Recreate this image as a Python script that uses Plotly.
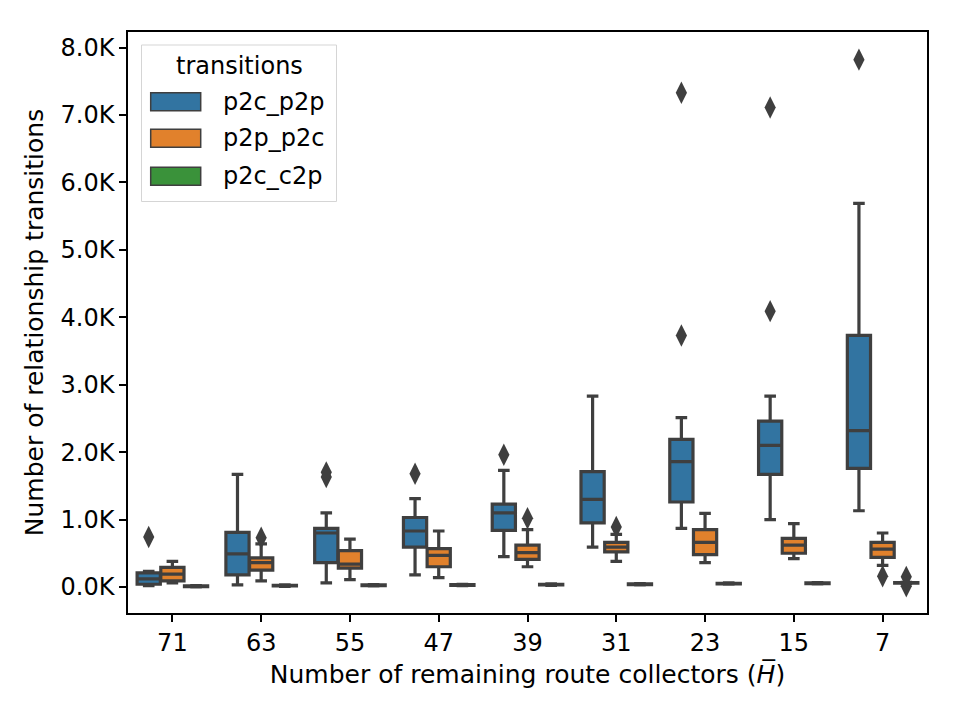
import plotly.graph_objects as go

collectors = ["71", "63", "55", "47", "39", "31", "23", "15", "7"]
hues = ["p2c_p2p", "p2p_p2c", "p2c_c2p"]
colors = ["#3274a1", "#e1812c", "#3a923a"]

# p2c_p2p
a_low = [20, 30, 60, 180, 450, 590, 870, 1000, 1130]
a_q1 = [40, 180, 360, 590, 840, 950, 1260, 1670, 1760]
a_med = [120, 490, 800, 830, 1100, 1300, 1860, 2100, 2320]
a_q3 = [210, 810, 870, 1030, 1230, 1710, 2190, 2460, 3730]
a_up = [230, 1670, 1100, 1310, 1730, 2830, 2510, 2830, 5690]
a_out = [[740], [], [1630, 1700], [1680], [1960], [], [3730, 7330], [4090, 7110], [7820]]

# p2p_p2c
b_low = [60, 90, 110, 140, 300, 380, 360, 420, 320]
b_q1 = [90, 250, 280, 300, 410, 520, 480, 500, 440]
b_med = [190, 360, 340, 470, 510, 590, 660, 620, 560]
b_q3 = [290, 430, 540, 570, 620, 660, 850, 720, 660]
b_up = [380, 640, 710, 830, 850, 780, 1090, 940, 800]
b_out = [[], [730], [], [], [1020], [890], [], [], [160]]

# p2c_c2p
c_low = [0, 10, 15, 20, 25, 30, 40, 45, 50]
c_q1 = [5, 15, 20, 25, 30, 35, 45, 50, 55]
c_med = [10, 20, 25, 30, 35, 40, 50, 55, 60]
c_q3 = [15, 25, 30, 35, 40, 45, 55, 60, 65]
c_up = [20, 30, 35, 40, 45, 50, 60, 65, 70]
c_out = [[], [], [], [], [], [], [], [], [10, 150]]

ytick_vals = [0, 1000, 2000, 3000, 4000, 5000, 6000, 7000, 8000]
ytick_text = ["0.0K", "1.0K", "2.0K", "3.0K", "4.0K", "5.0K", "6.0K", "7.0K", "8.0K"]

series = [
    (a_low, a_q1, a_med, a_q3, a_up, a_out),
    (b_low, b_q1, b_med, b_q3, b_up, b_out),
    (c_low, c_q1, c_med, c_q3, c_up, c_out),
]

LINE = "#3f3f3f"
FONT = "DejaVu Sans"
FS = 24
FS_TITLE = 25
n = len(collectors)
hw = 0.8 / len(hues)

W, H = 960, 720
ML, MR, MT, MB = 128, 33, 32, 107
PW, PH = W - ML - MR, H - MT - MB


def px(xp):
    return (xp - ML) / PW


def py(yp):
    return (H - MB - yp) / PH


fig = go.Figure()
for k, (name, col, (lo, q1, md, q3, up, out)) in enumerate(zip(hues, colors, series)):
    off = (k - 1) * hw
    xs = [i + off for i in range(n)]
    fig.add_trace(go.Box(
        name=name, x=xs, q1=q1, median=md, q3=q3,
        lowerfence=lo, upperfence=up,
        width=hw * 0.98, whiskerwidth=0.5,
        fillcolor=col, line=dict(color=LINE, width=3.2),
        boxpoints=False, hoverinfo="skip", showlegend=False,
    ))
    ox, oy = [], []
    for i in range(n):
        for v in out[i]:
            ox.append(i + off)
            oy.append(v)
    fig.add_trace(go.Scatter(
        x=ox, y=oy, mode="markers", showlegend=False,
        marker=dict(symbol="diamond-tall", size=16, color=LINE,
                    line=dict(width=0)),
        hoverinfo="skip",
    ))

# manual legend (seaborn style)
shapes = [dict(type="rect", xref="paper", yref="paper",
               x0=px(141.5), x1=px(336.5), y0=py(201.5), y1=py(45),
               line=dict(color="#d5d5d5", width=1), fillcolor="rgba(255,255,255,0.8)",
               layer="above")]
annotations = [dict(text="transitions", xref="paper", yref="paper",
                    x=px(239), y=py(66), xanchor="center", yanchor="middle",
                    showarrow=False, font=dict(family=FONT, size=FS, color="black"))]
row_y = [101.7, 138.3, 176.3]
for name, col, ry in zip(hues, colors, row_y):
    shapes.append(dict(type="rect", xref="paper", yref="paper",
                       x0=px(150.7), x1=px(200.7), y0=py(ry + 9), y1=py(ry - 9),
                       line=dict(color=LINE, width=1.5), fillcolor=col, layer="above"))
    annotations.append(dict(text=name, xref="paper", yref="paper",
                            x=px(221), y=py(ry), xanchor="left", yanchor="middle",
                            showarrow=False, font=dict(family=FONT, size=FS, color="black")))

fig.update_layout(
    width=W, height=H,
    margin=dict(l=ML, r=MR, t=MT, b=MB),
    plot_bgcolor="white", paper_bgcolor="white",
    font=dict(family=FONT, size=FS, color="black"),
    showlegend=False,
    shapes=shapes, annotations=annotations,
    xaxis=dict(
        range=[-0.5, n - 0.5], tickmode="array",
        tickvals=list(range(n)), ticktext=collectors,
        showgrid=False, zeroline=False,
        showline=True, mirror=True, linecolor="black", linewidth=1.5,
        ticks="outside", ticklen=7, tickwidth=1.5, tickcolor="black",
        tickfont=dict(size=FS),
        title=dict(text="Number of remaining route collectors (<i>H\u0305</i>)",
                   font=dict(size=FS_TITLE), standoff=10),
    ),
    yaxis=dict(
        range=[-386, 8230], tickmode="array",
        tickvals=ytick_vals, ticktext=ytick_text,
        showgrid=False, zeroline=False,
        showline=True, mirror=True, linecolor="black", linewidth=1.5,
        ticks="outside", ticklen=7, tickwidth=1.5, tickcolor="black",
        tickfont=dict(size=FS),
        title=dict(text="Number of relationship transitions",
                   font=dict(size=FS_TITLE), standoff=10),
    ),
)

fig.write_html("out.html")
